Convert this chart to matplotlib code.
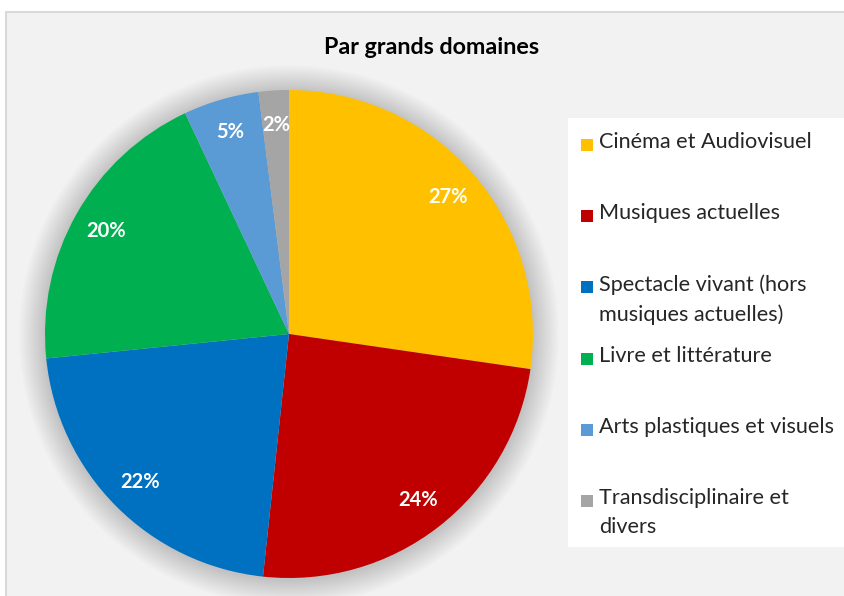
import matplotlib
matplotlib.use('Agg')
import matplotlib.pyplot as plt
from matplotlib.patches import Rectangle, Circle

plt.rcParams['font.family'] = ['Lato', 'DejaVu Sans']

domaines = ['Cinéma et Audiovisuel', 'Musiques actuelles',
            'Spectacle vivant (hors\nmusiques actuelles)', 'Livre et littérature',
            'Arts plastiques et visuels', 'Transdisciplinaire et\ndivers']
parts = [27.3, 24.4, 21.7, 19.6, 5.0, 2.0]
couleurs = ['#FFC000', '#C00000', '#0070C0', '#00B050', '#5B9BD5', '#A5A5A5']

W, H = 845, 596
fig = plt.figure(figsize=(W / 100, H / 100), dpi=100)
fig.patch.set_facecolor('white')

# fond du graphique
fig.patches.append(Rectangle((6 / W, -0.01), 1, 1.01 - 12 / H, transform=fig.transFigure,
                             facecolor='#F2F2F2', edgecolor='#D9D9D9', linewidth=1.5, zorder=-5))

fig.text(432 / W, 1 - 47 / H, 'Par grands domaines', ha='center', va='center',
         fontsize=16.8, fontweight='bold', color='black')

# axe du camembert : centre (289, 334), rayon 244 px
R = 244
lim = 1.15
side = 2 * R * lim
ax = fig.add_axes([(289 - side / 2) / W, (H - 334 - side / 2) / H, side / W, side / H])
ax.set_facecolor('none')
ax.set_zorder(2)

# ombre douce
n = 24
for k in range(n):
    ax.add_patch(Circle((0, -0.005), 1.0 + 0.0045 * (n - k), facecolor='black',
                        alpha=0.007, edgecolor='none', zorder=0))

wedges, textes, pcts = ax.pie(parts, colors=couleurs, startangle=90, counterclock=False,
                              autopct='%.0f%%', pctdistance=0.86, radius=1,
                              wedgeprops=dict(linewidth=0),
                              textprops=dict(color='white', fontsize=14.5, fontweight='bold'))
ax.set_xlim(-lim, lim)
ax.set_ylim(-lim, lim)
ax.set_aspect('equal')
ax.axis('off')

# légende
fig.patches.append(Rectangle((568 / W, 1 - 547 / H), (W - 568) / W, (547 - 118) / H,
                             transform=fig.transFigure, facecolor='white', edgecolor='none', zorder=1))
for i, (nom, c) in enumerate(zip(domaines, couleurs)):
    y = 145 + 71.2 * i
    fig.patches.append(Rectangle((581 / W, 1 - (y + 6) / H), 12 / W, 12 / H,
                                 transform=fig.transFigure, facecolor=c, edgecolor='none', zorder=2))
    fig.text(599 / W, 1 - (y - 13) / H, nom, ha='left', va='top', fontsize=15.6,
             color='#262626', linespacing=1.55, zorder=3)

fig.savefig('out.png', dpi=100)
